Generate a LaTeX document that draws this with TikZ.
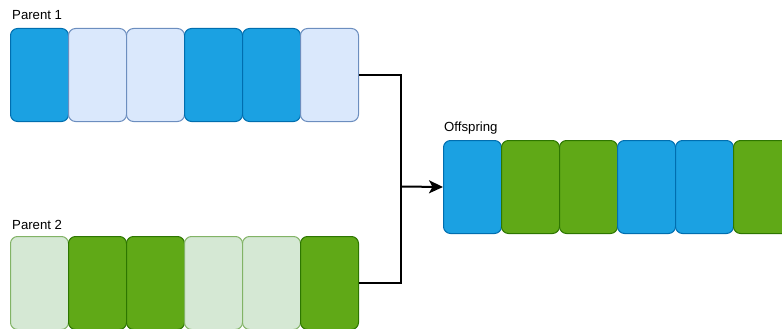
\documentclass[tikz,border=0pt]{standalone}
\usepackage{fontspec}
\setmainfont{Liberation Sans}
\usetikzlibrary{arrows.meta}
\definecolor{dblueF}{HTML}{1BA1E2}
\definecolor{dblueS}{HTML}{006EAF}
\definecolor{lblueF}{HTML}{DAE8FC}
\definecolor{lblueS}{HTML}{6C8EBF}
\definecolor{dgreenF}{HTML}{60A917}
\definecolor{dgreenS}{HTML}{2D7600}
\definecolor{lgreenF}{HTML}{D5E8D4}
\definecolor{lgreenS}{HTML}{82B366}
\tikzset{
  gene/.style={draw, line width=1pt, rounded corners=7pt, minimum width=58pt, minimum height=93pt, inner sep=0pt, anchor=north west},
  db/.style={gene, fill=dblueF, draw=dblueS},
  lb/.style={gene, fill=lblueF, draw=lblueS},
  dg/.style={gene, fill=dgreenF, draw=dgreenS},
  lg/.style={gene, fill=lgreenF, draw=lgreenS},
  lbl/.style={anchor=base west, inner sep=0pt, font=\fontsize{13.2pt}{15pt}\selectfont},
  conn/.style={line width=2pt, black}
}
\begin{document}
\begin{tikzpicture}[x=1pt,y=-1pt]
\useasboundingbox (0,0) rectangle (782,329);
% Parent 1
\node[lbl] (t1) at (12,19.5) {Parent 1};
\node[db] (p1a) at (10,28) {};
\node[lb] (p1b) at (68,28) {};
\node[lb] (p1c) at (126,28) {};
\node[db] (p1d) at (184,28) {};
\node[db] (p1e) at (242,28) {};
\node[lb] (p1f) at (300,28) {};
% Parent 2
\node[lbl] (t2) at (12,229.5) {Parent 2};
\node[lg] (p2a) at (10,236) {};
\node[dg] (p2b) at (68,236) {};
\node[dg] (p2c) at (126,236) {};
\node[lg] (p2d) at (184,236) {};
\node[lg] (p2e) at (242,236) {};
\node[dg] (p2f) at (300,236) {};
% Offspring
\node[lbl] (t3) at (444,131) {Offspring};
\node[db] (o1) at (443,140) {};
\node[dg] (o2) at (501,140) {};
\node[dg] (o3) at (559,140) {};
\node[db] (o4) at (617,140) {};
\node[db] (o5) at (675,140) {};
\node[dg] (o6) at (733,140) {};
% connectors
\coordinate (j) at (400.5,186.5);
\draw[conn] (p1f.east) -| (j);
\draw[conn] (p2f.east) -| (j);
\draw[conn, -{Stealth[length=14pt,width=13pt,inset=3.5pt]}] (j) -- (o1.west);
\end{tikzpicture}
\end{document}
